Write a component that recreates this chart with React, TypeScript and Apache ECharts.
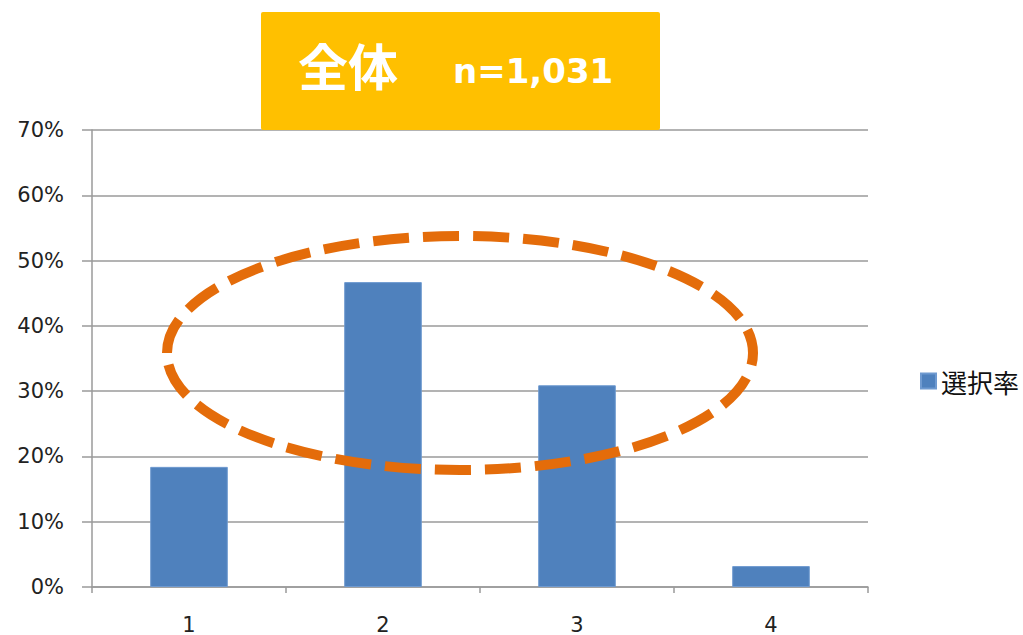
import React, { useEffect, useRef } from "react";
import * as echarts from "echarts";

const categories = ["1", "2", "3", "4"];
const rates = [18.4, 46.7, 30.9, 3.2];
const seriesName = "選択率";
const titleMain = "全体";
const titleSub = "n=1,031";

export default function App() {
  const ref = useRef<HTMLDivElement>(null);
  useEffect(() => {
    const chart = echarts.init(ref.current!, null, { renderer: "svg" });
    const labelFont = "'DejaVu Sans', Verdana, sans-serif";
    chart.setOption({
      animation: false,
      backgroundColor: "#ffffff",
      grid: { left: 92, right: 155, top: 130, bottom: 48 },
      legend: {
        data: [seriesName],
        left: 915,
        top: 363,
        icon: "rect",
        itemWidth: 15,
        itemHeight: 15,
        textStyle: { fontSize: 26, color: "#111", fontFamily: "'Noto Sans CJK JP', sans-serif" },
      },
      xAxis: {
        type: "category",
        data: categories,
        axisLine: { show: true, lineStyle: { color: "#9a9a9a", width: 1.5 } },
        axisTick: { show: true, length: 6, lineStyle: { color: "#9a9a9a", width: 1.5 } },
        axisLabel: { fontSize: 21, color: "#222", margin: 27, fontFamily: labelFont },
      },
      yAxis: {
        type: "value",
        min: 0,
        max: 70,
        interval: 10,
        axisLine: { show: true, lineStyle: { color: "#9a9a9a", width: 1.5 } },
        axisTick: { show: true, length: 10, lineStyle: { color: "#9a9a9a", width: 1.5 } },
        splitLine: { show: true, lineStyle: { color: "#9a9a9a", width: 1.5 } },
        axisLabel: { fontSize: 21, color: "#222", margin: 28, formatter: "{value}%", fontFamily: labelFont },
      },
      series: [
        {
          name: seriesName,
          type: "bar",
          data: rates,
          barWidth: "40%",
          itemStyle: { color: "#4F81BD", borderColor: "#6f9ad0", borderWidth: 1 },
        },
      ],
      graphic: [
        {
          type: "rect",
          shape: { x: 261, y: 12, width: 399, height: 118, r: 2 },
          style: { fill: "#FFC000" },
          z: 10,
        },
        {
          type: "text",
          x: 298,
          y: 64,
          style: {
            text: titleMain,
            fill: "#ffffff",
            font: "bold 50px 'Noto Sans CJK JP', sans-serif",
            verticalAlign: "middle",
          },
          z: 11,
        },
        {
          type: "text",
          x: 453,
          y: 71,
          style: {
            text: titleSub,
            fill: "#ffffff",
            font: "bold 34px 'DejaVu Sans', sans-serif",
            verticalAlign: "middle",
          },
          z: 11,
        },
        {
          type: "ellipse",
          shape: { cx: 460, cy: 353, rx: 293, ry: 117 },
          style: { fill: null, stroke: "#E46C0A", lineWidth: 10, lineDash: [36, 14] },
          z: 12,
        },
      ],
    });
    return () => chart.dispose();
  }, []);
  return (
    <div
      ref={ref}
      style={{ position: "absolute", left: 0, top: 0, width: 1023, height: 635 }}
    />
  );
}
